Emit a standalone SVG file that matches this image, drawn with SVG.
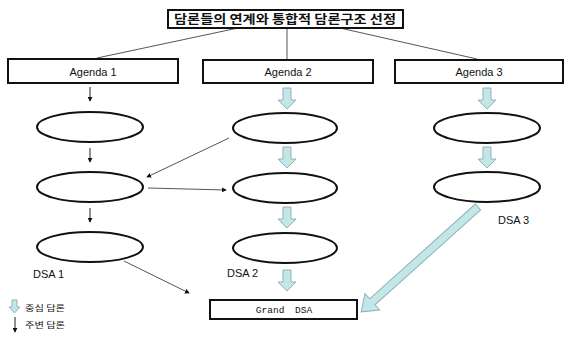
<svg xmlns="http://www.w3.org/2000/svg" width="565" height="338" viewBox="0 0 565 338">
<style>
.box{fill:#fff;stroke:#111;stroke-width:2}
.ell{fill:#fff;stroke:#111;stroke-width:2}
.ln{stroke:#555;stroke-width:1;fill:none}
.thin{stroke:#222;stroke-width:1;fill:none}
.blk{fill:#c3e6e6;stroke:#8fb3bd;stroke-width:1}
.lbl{font-family:"Liberation Sans",Arial,sans-serif;font-size:11px;fill:#111}
.ko{font-family:"Noto Sans CJK KR","Noto Sans",sans-serif;fill:#111}
.mono{font-family:"Liberation Mono","Courier New",monospace;font-size:9.5px;fill:#111}
</style>
<defs>
<marker id="ah" viewBox="0 0 6 6" refX="5" refY="3" markerWidth="5" markerHeight="5" orient="auto" markerUnits="userSpaceOnUse">
<path d="M0,0 L6,3 L0,6 z" fill="#111"/>
</marker>
<path id="ba" d="M-4,0 h8 v12 h5 l-9,9 l-9,-9 h5 z"/>
</defs>
<rect width="565" height="338" fill="#fff"/>
<g id="connectors">
<line class="ln" x1="238" y1="28" x2="97" y2="58"/>
<line class="ln" x1="287" y1="28" x2="287" y2="59"/>
<line class="ln" x1="340" y1="28" x2="477" y2="59"/>
<line class="thin" x1="90" y1="87" x2="90" y2="101" marker-end="url(#ah)"/>
<line class="thin" x1="90" y1="148" x2="90" y2="162" marker-end="url(#ah)"/>
<line class="thin" x1="90" y1="208" x2="90" y2="222" marker-end="url(#ah)"/>
<line class="ln" x1="229" y1="138" x2="147" y2="177" marker-end="url(#ah)"/>
<line class="ln" x1="148" y1="188" x2="226" y2="190" marker-end="url(#ah)"/>
<line class="ln" x1="124" y1="261" x2="189" y2="293" marker-end="url(#ah)"/>
<use href="#ba" class="blk" x="287" y="88"/>
<use href="#ba" class="blk" x="287" y="147"/>
<use href="#ba" class="blk" x="287" y="207"/>
<use href="#ba" class="blk" x="287" y="270"/>
<use href="#ba" class="blk" x="487" y="88"/>
<use href="#ba" class="blk" x="487" y="147"/>
<path class="blk" d="M0,-4 H142 V-11 L157,0 L142,11 V4 H0 Z" transform="translate(478,207) rotate(138.1)"/>
</g>
<g id="title">
<rect class="box" x="168" y="10" width="235" height="18"/>
<text class="ko" x="285" y="24" font-size="12" font-weight="bold" text-anchor="middle" textLength="222" lengthAdjust="spacingAndGlyphs">담론들의 연계와 통합적 담론구조 선정</text>
</g>
<g id="agenda1">
<rect class="box" x="8" y="59" width="170" height="24"/>
<text class="lbl" x="93" y="76" text-anchor="middle">Agenda 1</text>
</g>
<g id="agenda2">
<rect class="box" x="203" y="60" width="170" height="23"/>
<text class="lbl" x="288" y="76" text-anchor="middle">Agenda 2</text>
</g>
<g id="agenda3">
<rect class="box" x="395" y="60" width="168" height="23"/>
<text class="lbl" x="479" y="76" text-anchor="middle">Agenda 3</text>
</g>
<g id="a1e1"><ellipse class="ell" cx="90" cy="127" rx="53" ry="15"/></g>
<g id="a1e2"><ellipse class="ell" cx="90" cy="187" rx="53" ry="15"/></g>
<g id="a1e3"><ellipse class="ell" cx="90" cy="247" rx="53" ry="15"/>
<text class="lbl" x="33" y="278">DSA 1</text></g>
<g id="a2e1"><ellipse class="ell" cx="285" cy="128" rx="52" ry="15"/></g>
<g id="a2e2"><ellipse class="ell" cx="285" cy="188" rx="52" ry="15"/></g>
<g id="a2e3"><ellipse class="ell" cx="285" cy="248" rx="52" ry="15"/>
<text class="lbl" x="227" y="277">DSA 2</text></g>
<g id="a3e1"><ellipse class="ell" cx="487" cy="128" rx="53" ry="15"/></g>
<g id="a3e2"><ellipse class="ell" cx="487" cy="187" rx="53" ry="15"/>
<text class="lbl" x="498" y="224">DSA 3</text></g>
<g id="grand">
<rect class="box" x="210" y="300" width="147" height="19"/>
<text class="mono" x="284" y="313" text-anchor="middle" word-spacing="5">Grand DSA</text>
</g>
<g id="legend">
<path class="blk" d="M12,300 h5 v7 h3 l-5.5,6 l-5.5,-6 h3 z"/>
<text class="ko" x="25" y="311" font-size="8" textLength="40" lengthAdjust="spacingAndGlyphs">중심 담론</text>
<line class="thin" x1="15" y1="317" x2="15" y2="332" marker-end="url(#ah)"/>
<text class="ko" x="25" y="328" font-size="8" textLength="40" lengthAdjust="spacingAndGlyphs">주변 담론</text>
</g>
</svg>
